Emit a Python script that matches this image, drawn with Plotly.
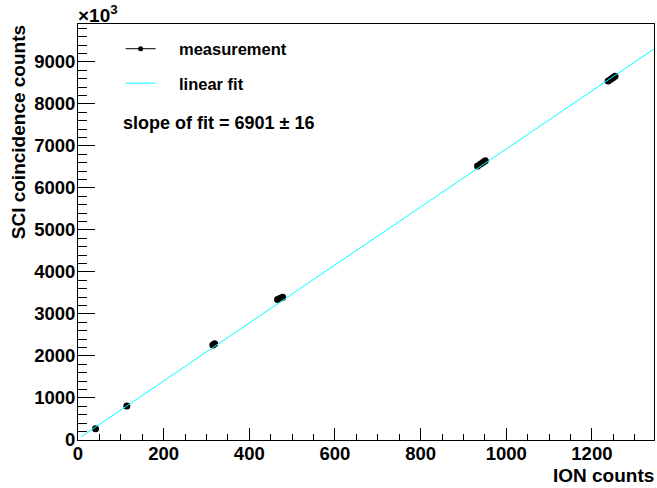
import plotly.graph_objects as go

# measurement data (ION counts, SCI coincidence counts in units of 10^3)
ion_counts = [41, 114, 315, 319, 466, 472, 478, 933, 940, 946, 951, 1238, 1244, 1249, 1254]
sci_counts = [270, 810, 2262, 2290, 3345, 3375, 3400, 6520, 6570, 6610, 6645, 8545, 8585, 8620, 8655]

# linear fit parameters
fit_slope = 6.901
fit_intercept = 25
fit_range = [7, 1345]
fit_y = [fit_intercept + fit_slope * x for x in fit_range]

FONT = "Liberation Sans, Arial, Helvetica, sans-serif"
NB = "\u00a0"

fig = go.Figure()
fig.add_trace(go.Scatter(
    x=ion_counts, y=sci_counts, mode="markers", name="measurement",
    marker=dict(color="black", size=7, symbol="circle"),
    showlegend=False,
))
# legend entry (line + marker) for the measurement
fig.add_trace(go.Scatter(
    x=[None], y=[None], mode="lines+markers", name=NB * 4 + "measurement",
    marker=dict(color="black", size=5, symbol="circle"),
    line=dict(color="black", width=1), legendgroup="a",
))
fig.add_trace(go.Scatter(
    x=fit_range, y=fit_y, mode="lines", name=NB * 4 + "linear fit",
    line=dict(color="#00FFFF", width=1), legendgroup="b",
))

axis_common = dict(
    showline=True, linecolor="black", linewidth=1, mirror=True,
    ticks="inside", tickcolor="black", showgrid=False, zeroline=False,
    automargin=False, tickformat="d",
    tickfont=dict(family=FONT, size=18.5, color="black", weight="bold"),
)

fig.update_layout(
    template="none",
    width=657, height=488,
    margin=dict(l=78, r=3, t=24, b=48, autoexpand=False),
    paper_bgcolor="white", plot_bgcolor="white",
    showlegend=True,
    legend=dict(
        x=0.074, y=0.982, xanchor="left", yanchor="top",
        bgcolor="rgba(0,0,0,0)", tracegroupgap=10,
        font=dict(family=FONT, size=16.5, color="black", weight="bold"),
    ),
    xaxis=dict(
        range=[0, 1345], dtick=200, tick0=0, ticklen=12, tickwidth=1,
        minor=dict(ticks="inside", dtick=50, ticklen=6, tickcolor="black", showgrid=False),
        ticklabelstandoff=-3,
        **axis_common,
    ),
    yaxis=dict(
        range=[0, 9900], dtick=1000, tick0=0, ticklen=17, tickwidth=1,
        minor=dict(ticks="inside", dtick=200, ticklen=9, tickcolor="black", showgrid=False),
        ticklabelstandoff=-2,
        **axis_common,
    ),
    annotations=[
        dict(text="ION counts", xref="paper", yref="paper", x=1.003, y=-0.086,
             xanchor="right", yanchor="middle", showarrow=False,
             font=dict(family=FONT, size=19, color="black", weight="bold")),
        dict(text="SCI coincidence counts", xref="paper", yref="paper", x=-0.104, y=0.74,
             xanchor="center", yanchor="middle", textangle=-90, showarrow=False,
             font=dict(family=FONT, size=19, color="black", weight="bold")),
        dict(text="×10<sup>3</sup>", xref="paper", yref="paper", x=-0.003, y=0.99,
             xanchor="left", yanchor="bottom", showarrow=False,
             font=dict(family=FONT, size=19, color="black", weight="bold")),
        dict(text="slope of fit = 6901 ± 16", xref="paper", yref="paper",
             x=(121 - 78) / 576, y=(440 - 123) / 416, xanchor="left", yanchor="middle",
             showarrow=False,
             font=dict(family=FONT, size=18, color="black", weight="bold")),
    ],
)

fig.write_html(
    "out.html",
    config={"displayModeBar": False},
    post_script="document.body.style.margin='0';document.body.style.overflow='hidden';",
)
